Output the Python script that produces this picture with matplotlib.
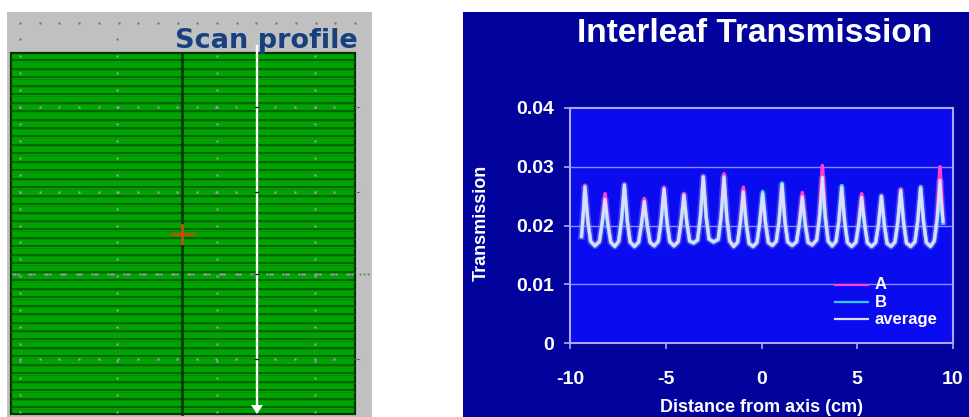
import numpy as np
import matplotlib
matplotlib.use("Agg")
import matplotlib.pyplot as plt
from matplotlib.patches import Rectangle, Polygon

# ---------------- data ----------------
x_cm = [-9.40, -9.30, -9.22, -9.07, -8.92, -8.70,
        -8.47, -8.32, -8.17, -8.02, -7.87, -7.66,
        -7.46, -7.31, -7.16, -7.01, -6.86, -6.64,
        -6.42, -6.27, -6.12, -5.97, -5.82, -5.60,
        -5.39, -5.24, -5.09, -4.94, -4.79, -4.57,
        -4.35, -4.20, -4.05, -3.90, -3.75, -3.54,
        -3.34, -3.19, -3.04, -2.89, -2.74, -2.50,
        -2.26, -2.11, -1.96, -1.81, -1.66, -1.45,
        -1.25, -1.10, -0.95, -0.80, -0.65, -0.44,
        -0.24, -0.09, 0.06, 0.21, 0.36, 0.57,
        0.77, 0.92, 1.07, 1.22, 1.37, 1.60,
        1.83, 1.98, 2.13, 2.28, 2.43, 2.65,
        2.88, 3.03, 3.18, 3.33, 3.48, 3.69,
        3.89, 4.04, 4.19, 4.34, 4.49, 4.71,
        4.93, 5.08, 5.23, 5.38, 5.53, 5.75,
        5.96, 6.11, 6.26, 6.41, 6.56, 6.77,
        6.97, 7.12, 7.27, 7.42, 7.57, 7.79,
        8.01, 8.16, 8.31, 8.46, 8.61, 8.82,
        9.02, 9.17, 9.32, 9.40, 9.48]

trans_b = [0.0181, 0.0222, 0.0264, 0.0207, 0.0173, 0.0165,
           0.0172, 0.0203, 0.0236, 0.0200, 0.0171, 0.0164,
           0.0173, 0.0208, 0.0268, 0.0207, 0.0172, 0.0164,
           0.0171, 0.0201, 0.0236, 0.0200, 0.0171, 0.0165,
           0.0173, 0.0207, 0.0260, 0.0206, 0.0172, 0.0165,
           0.0172, 0.0205, 0.0250, 0.0204, 0.0173, 0.0170,
           0.0175, 0.0214, 0.0282, 0.0214, 0.0177, 0.0172,
           0.0176, 0.0214, 0.0278, 0.0212, 0.0173, 0.0164,
           0.0171, 0.0204, 0.0250, 0.0202, 0.0169, 0.0164,
           0.0171, 0.0206, 0.0258, 0.0205, 0.0171, 0.0166,
           0.0173, 0.0209, 0.0272, 0.0208, 0.0172, 0.0166,
           0.0172, 0.0202, 0.0242, 0.0202, 0.0171, 0.0167,
           0.0175, 0.0212, 0.0262, 0.0212, 0.0173, 0.0165,
           0.0173, 0.0208, 0.0268, 0.0207, 0.0171, 0.0164,
           0.0171, 0.0202, 0.0242, 0.0202, 0.0170, 0.0164,
           0.0171, 0.0202, 0.0250, 0.0202, 0.0169, 0.0164,
           0.0172, 0.0206, 0.0258, 0.0205, 0.0170, 0.0164,
           0.0172, 0.0208, 0.0266, 0.0207, 0.0171, 0.0164,
           0.0173, 0.0208, 0.0254, 0.0228, 0.0204]

trans_a = [0.0182, 0.0224, 0.0268, 0.0209, 0.0173, 0.0166,
           0.0173, 0.0207, 0.0254, 0.0204, 0.0172, 0.0165,
           0.0173, 0.0209, 0.0270, 0.0209, 0.0172, 0.0165,
           0.0172, 0.0203, 0.0246, 0.0202, 0.0172, 0.0166,
           0.0173, 0.0208, 0.0265, 0.0207, 0.0173, 0.0166,
           0.0173, 0.0207, 0.0254, 0.0206, 0.0174, 0.0171,
           0.0176, 0.0215, 0.0284, 0.0215, 0.0177, 0.0172,
           0.0177, 0.0216, 0.0288, 0.0214, 0.0174, 0.0165,
           0.0172, 0.0208, 0.0265, 0.0206, 0.0170, 0.0165,
           0.0171, 0.0204, 0.0250, 0.0203, 0.0171, 0.0166,
           0.0173, 0.0208, 0.0268, 0.0207, 0.0172, 0.0166,
           0.0173, 0.0206, 0.0256, 0.0205, 0.0172, 0.0167,
           0.0176, 0.0220, 0.0302, 0.0217, 0.0174, 0.0166,
           0.0173, 0.0207, 0.0262, 0.0206, 0.0171, 0.0165,
           0.0172, 0.0206, 0.0254, 0.0205, 0.0171, 0.0165,
           0.0171, 0.0202, 0.0250, 0.0202, 0.0170, 0.0165,
           0.0172, 0.0207, 0.0262, 0.0206, 0.0171, 0.0165,
           0.0172, 0.0207, 0.0262, 0.0206, 0.0171, 0.0165,
           0.0174, 0.0214, 0.0300, 0.0250, 0.0210]

trans_avg = [(a + b) / 2 for a, b in zip(trans_a, trans_b)]

series_labels = ["A", "B", "average"]
x_ticks = [-10, -5, 0, 5, 10]
x_tick_labels = ["-10", "-5", "0", "5", "10"]
y_ticks = [0, 0.01, 0.02, 0.03, 0.04]
y_tick_labels = ["0", "0.01", "0.02", "0.03", "0.04"]

# ---------------- figure ----------------
W, H = 970, 417
fig = plt.figure(figsize=(W / 100, H / 100), dpi=100, facecolor="white")
bg = fig.add_axes([0, 0, 1, 1])
bg.set_xlim(0, W)
bg.set_ylim(H, 0)
bg.axis("off")

# ----- left panel: scan profile picture -----
bg.add_patch(Rectangle((7, 12), 365, 405, fc="#c0c0c0", ec="none", zorder=1))
for xd in np.arange(20, 360, 19.7):
    bg.plot(xd, 23, marker="s", ms=1.4, color="#6a6a6a", mec="none", zorder=2)
for xd in (20, 117):
    bg.plot(xd, 39, marker="s", ms=1.4, color="#6a6a6a", mec="none", zorder=2)

bg.text(358, 48, "Scan profile", ha="right", va="baseline", fontsize=19.5,
        fontweight="bold", color="#17407e", family="DejaVu Sans", zorder=6)

GX0, GX1, GY0, GY1 = 11, 355, 53, 414
bg.add_patch(Rectangle((GX0, GY0), GX1 - GX0, GY1 - GY0, fc="#00a400",
                       ec="#063006", lw=1.6, zorder=2))
for yl in np.arange(60.3, GY1 - 2, 8.46):
    bg.plot([GX0, GX1], [yl, yl], color="#025202", lw=1.1, zorder=3,
            solid_capstyle="butt")
    bg.plot([GX0, GX1], [yl + 1.4, yl + 1.4], color="#0a860a", lw=0.5,
            zorder=3, solid_capstyle="butt")

bg.plot([182, 182], [GY0, GY1], color="#043804", lw=2.0, zorder=4)

dot_c = "#b894c4"
for yd in np.arange(56, GY1 - 2, 16.95):
    for xd in (20, 117, 217, 315):
        bg.plot(xd, yd, marker="s", ms=1.6, color=dot_c, mec="none", zorder=4)
for yd in (107.3, 191.8, 359):
    for xd in np.arange(20, 345, 19.65):
        bg.plot(xd, yd, marker="s", ms=1.6, color=dot_c, mec="none", zorder=4)
    bg.plot([355, 359], [yd, yd], color="#707070", lw=0.8, zorder=4)
for xg in np.arange(13, 356, 15.9):
    for k in range(3):
        bg.plot(xg + 2.4 * k, 274, marker="s", ms=1.4, color=dot_c,
                mec="none", zorder=4)
for xg in np.arange(360, 372, 4):
    bg.plot(xg, 274, marker="s", ms=1.3, color="#707070", mec="none", zorder=4)

bg.plot([172, 193], [234, 234], color="#b5500f", lw=2.2, zorder=5)
bg.plot([182, 182], [225, 243], color="#b5500f", lw=2.2, zorder=5)

bg.plot([257, 257], [46, 406], color="white", lw=1.7, zorder=5)
bg.add_patch(Polygon([(251, 405), (263, 405), (257, 414)], closed=True,
                     fc="white", ec="none", zorder=5))
for yd in (107.3, 191.8, 274, 359):
    bg.plot([255.5, 258.5], [yd, yd], color="#202020", lw=1.0, zorder=6)

# ----- right panel -----
bg.add_patch(Rectangle((463, 12), 507, 405, fc="#02029c", ec="none", zorder=1))

FONT = ["Liberation Sans", "DejaVu Sans"]
ax = fig.add_axes([570 / W, 1 - 343 / H, 383 / W, 235 / H])
ax.set_facecolor("#0b0bef")
ax.set_xlim(-10, 10)
ax.set_ylim(0, 0.04)

for yg in y_ticks[1:4]:
    ax.axhline(yg, color="#8a8aff", lw=1.0, zorder=1)

line_colors = ["#ff3fd0", "#2ad0ff", "#dcdcff"]
# soft glow under the curves (JPEG-like halo)
ax.plot(x_cm, trans_avg, color="#9a9aff", lw=5.0, alpha=0.35, zorder=2,
        solid_joinstyle="round")
ax.plot(x_cm, trans_a, color=line_colors[0], lw=2.6, zorder=3,
        solid_joinstyle="round")
ax.plot(x_cm, trans_b, color=line_colors[1], lw=2.6, zorder=4,
        solid_joinstyle="round")
ax.plot(x_cm, trans_avg, color=line_colors[2], lw=2.2, zorder=5,
        solid_joinstyle="round")

for s in ax.spines.values():
    s.set_color("#a8a8ff")
    s.set_linewidth(1.5)

ax.set_xticks(x_ticks)
ax.set_xticklabels(x_tick_labels)
ax.set_yticks(y_ticks)
ax.set_yticklabels(y_tick_labels)
ax.tick_params(axis="both", direction="out", length=4.5, width=1.2,
               color="#a8a8ff", labelcolor="white", labelsize=14)
ax.tick_params(axis="x", pad=16)
ax.tick_params(axis="y", pad=7)
for lab in ax.get_xticklabels() + ax.get_yticklabels():
    lab.set_fontweight("bold")
    lab.set_family(FONT)

leg_rows = [0.247, 0.174, 0.102]
for lbl, col, yy in zip(series_labels, line_colors, leg_rows):
    ax.plot([0.692, 0.778], [yy, yy], transform=ax.transAxes, color=col,
            lw=1.6, zorder=6)
    ax.text(0.796, yy, lbl, transform=ax.transAxes, ha="left", va="center",
            color="white", fontsize=12, fontweight="bold", family=FONT,
            zorder=6)

fig.text(755 / W, 1 - 34 / H, "Interleaf Transmission", ha="center",
         va="center", color="white", fontsize=24, fontweight="bold",
         family=FONT)
fig.text(762 / W, 1 - 407 / H, "Distance from axis (cm)", ha="center",
         va="center", color="white", fontsize=13, fontweight="bold",
         family=FONT)
fig.text(481 / W, 1 - 223 / H, "Transmission", ha="center", va="center",
         rotation=90, color="white", fontsize=13, fontweight="bold",
         family=FONT)

fig.savefig("out.png", dpi=100, facecolor="white")
